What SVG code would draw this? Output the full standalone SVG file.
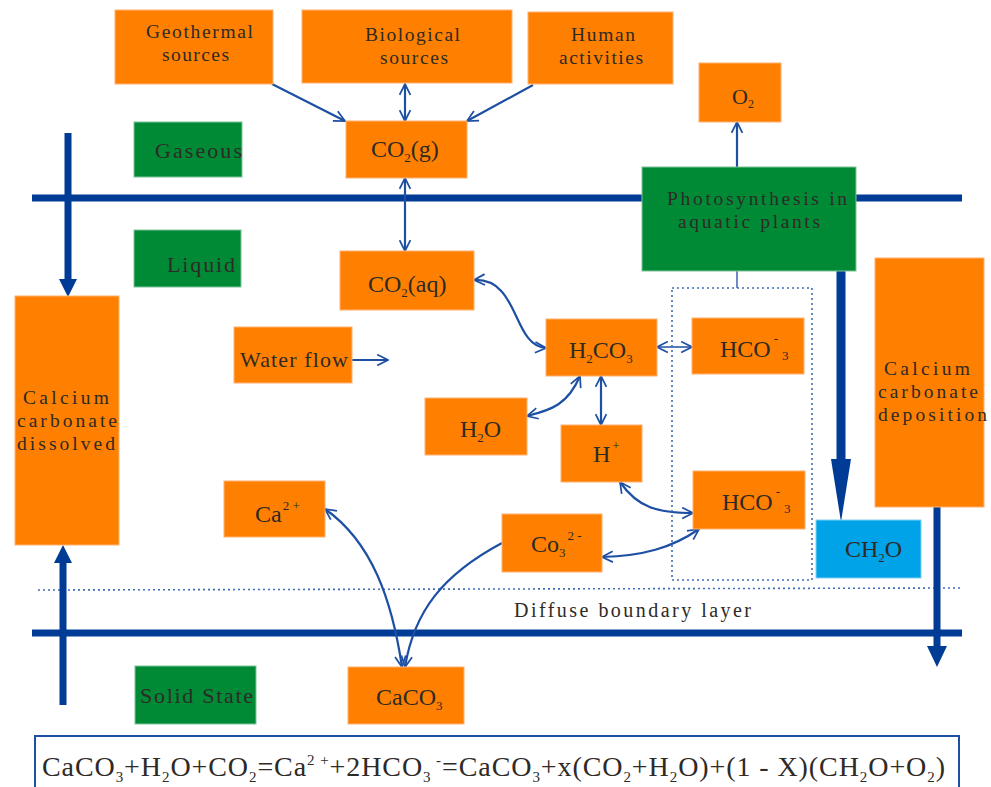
<svg xmlns="http://www.w3.org/2000/svg" width="991" height="787" viewBox="0 0 991 787" font-family="'Liberation Serif','DejaVu Serif',serif">
<style>
.o{fill:#FF8000;stroke:#FFB070;stroke-width:1}
.g{fill:#008A36;stroke:#7FC49A;stroke-width:1}
.b{fill:#00A2E8;stroke:#80D0F4;stroke-width:1}
text{font-family:'Liberation Serif','DejaVu Serif',serif;fill:#2E2A26}
.t{font-size:22px;text-anchor:middle}
.t2{font-size:19.5px;text-anchor:middle}
.l{font-size:24px}
.s{font-size:13px}
.eq{font-size:28px}
.es{font-size:15px}
.c{fill:none;stroke:#1D4FA3;stroke-width:2.2}
.thin{fill:none;stroke:#2D5CA8;stroke-width:1.4}
.dot{fill:none;stroke:#3E6CB5;stroke-width:1.6;stroke-dasharray:2 3}
.thick{stroke:#003C96;stroke-width:7;fill:none}
.head{fill:#003C96}
</style>
<defs>
<marker id="ah" viewBox="0 0 12 12" refX="11" refY="6" markerWidth="13" markerHeight="13" markerUnits="userSpaceOnUse" orient="auto-start-reverse">
<path d="M1,1 L11,6 L1,11" fill="none" stroke="#1D4FA3" stroke-width="1.6"/>
</marker>
</defs>

<g id="layers">
<line class="thick" x1="32" y1="198" x2="962" y2="198"/>
<line class="thick" x1="32" y1="633" x2="962" y2="633"/>
<line class="dot" x1="38" y1="590" x2="962" y2="588"/>
<text x="632.5" y="617" class="t" style="font-size:20px" textLength="237" lengthAdjust="spacing">Diffuse boundary layer</text>
</g>

<g id="connectors">
<line class="c" x1="272" y1="84" x2="345" y2="121" marker-end="url(#ah)"/>
<line class="c" x1="405" y1="84" x2="405" y2="121" marker-start="url(#ah)" marker-end="url(#ah)"/>
<line class="c" x1="533" y1="85" x2="467" y2="121" marker-end="url(#ah)"/>
<line class="c" x1="405" y1="178" x2="405" y2="251" marker-start="url(#ah)" marker-end="url(#ah)"/>
<line class="c" x1="737" y1="167" x2="737" y2="122" marker-end="url(#ah)"/>
<line class="thin" x1="737" y1="271" x2="737" y2="288"/>
<path class="c" d="M474,280 C520,278 512,346 546,348" marker-start="url(#ah)" marker-end="url(#ah)"/>
<line class="c" x1="657" y1="347" x2="692" y2="347" style="stroke-width:1.6" marker-start="url(#ah)" marker-end="url(#ah)"/>
<line class="c" x1="601" y1="376" x2="601" y2="425" marker-start="url(#ah)" marker-end="url(#ah)"/>
<path class="c" d="M580,376 C568,404 552,410 527,416" marker-start="url(#ah)" marker-end="url(#ah)"/>
<path class="c" d="M620,482 C638,508 658,513 693,513" marker-start="url(#ah)" marker-end="url(#ah)"/>
<path class="c" d="M699,529 C672,548 642,556 602,557" marker-start="url(#ah)" marker-end="url(#ah)"/>
<path class="c" d="M325,509 C372,542 392,600 402,667" marker-start="url(#ah)" marker-end="url(#ah)"/>
<path class="c" d="M502,543 C442,575 414,612 405,667" marker-end="url(#ah)"/>
<line class="c" x1="352" y1="360" x2="388" y2="360" marker-end="url(#ah)"/>
<line class="thick" style="stroke-width:9" x1="841" y1="271" x2="841" y2="462"/>
<polygon class="head" points="831,459 851,459 841,522"/>
<line class="thick" x1="937" y1="507" x2="937" y2="648"/>
<polygon class="head" points="927,646 947,646 937,667"/>
<line class="thick" x1="68" y1="133" x2="68" y2="281"/>
<polygon class="head" points="59,279 77,279 68,297"/>
<line class="thick" x1="63" y1="705" x2="63" y2="560"/>
<polygon class="head" points="54,563 72,563 63,545"/>
<rect class="dot" x="672" y="288" width="140" height="292"/>
</g>

<g id="geothermal"><rect class="o" x="115" y="10" width="158" height="74"/><text class="t2" x="199.5" y="38" textLength="107" lengthAdjust="spacing">Geothermal</text><text class="t2" x="195.5" y="61" textLength="67" lengthAdjust="spacing">sources</text></g>
<g id="biological"><rect class="o" x="302" y="10" width="210" height="73"/><text class="t2" x="412.5" y="41" textLength="95" lengthAdjust="spacing">Biological</text><text class="t2" x="414" y="64" textLength="68" lengthAdjust="spacing">sources</text></g>
<g id="human"><rect class="o" x="528" y="12" width="145" height="72"/><text class="t2" x="603" y="41" textLength="64" lengthAdjust="spacing">Human</text><text class="t2" x="601" y="64" textLength="84" lengthAdjust="spacing">activities</text></g>
<g id="co2g"><rect class="o" x="346" y="121" width="121" height="57"/><text class="l" x="371" y="157">CO<tspan class="s" dy="5">2</tspan><tspan dy="-5">(g)</tspan></text></g>
<g id="gaseous"><rect class="g" x="134" y="122" width="108" height="55"/><text class="t" x="198.5" y="158" textLength="87" lengthAdjust="spacing">Gaseous</text></g>
<g id="o2"><rect class="o" x="699" y="63" width="82" height="59"/><text class="l" x="732" y="104" style="font-size:22px">O<tspan class="s" style="font-size:12px" dy="4">2</tspan></text></g>
<g id="photosynthesis"><rect class="g" x="642" y="167" width="214" height="104"/><text class="t2" x="757" y="205" textLength="180" lengthAdjust="spacing">Photosynthesis in</text><text class="t2" x="749" y="228" textLength="142" lengthAdjust="spacing">aquatic plants</text></g>
<g id="liquid"><rect class="g" x="134" y="230" width="107" height="57"/><text class="t" x="201" y="272" textLength="68" lengthAdjust="spacing">Liquid</text></g>
<g id="co2aq"><rect class="o" x="340" y="251" width="134" height="59"/><text class="l" x="368" y="292">CO<tspan class="s" dy="5">2</tspan><tspan dy="-5">(aq)</tspan></text></g>
<g id="waterflow"><rect class="o" x="234" y="327" width="118" height="56"/><text class="t" x="294" y="367" textLength="108" lengthAdjust="spacing">Water flow</text></g>
<g id="h2co3"><rect class="o" x="546" y="319" width="111" height="57"/><text class="l" x="569" y="358">H<tspan class="s" dy="5">2</tspan><tspan dy="-5">CO</tspan><tspan class="s" dy="5">3</tspan></text></g>
<g id="hco3a"><rect class="o" x="692" y="318" width="112" height="56"/><text class="l" x="720" y="357">HCO<tspan class="s" dx="3" dy="-14">-</tspan><tspan class="s" dx="4" dy="17">3</tspan></text></g>
<g id="h2o"><rect class="o" x="425" y="398" width="102" height="57"/><text class="l" x="460" y="437">H<tspan class="s" dy="5">2</tspan><tspan dy="-5">O</tspan></text></g>
<g id="hplus"><rect class="o" x="561" y="425" width="81" height="57"/><text class="l" x="593" y="462">H<tspan class="s" dx="2" dy="-12">+</tspan></text></g>
<g id="ca2"><rect class="o" x="224" y="481" width="101" height="56"/><text class="l" x="255" y="522">Ca<tspan class="s" dx="1" dy="-12">2 +</tspan></text></g>
<g id="co3"><rect class="o" x="502" y="514" width="100" height="58"/><text class="l" x="531" y="552">Co<tspan class="s" dy="5">3</tspan><tspan class="s" dx="2" dy="-17">2 -</tspan></text></g>
<g id="hco3b"><rect class="o" x="693" y="471" width="112" height="58"/><text class="l" x="722" y="510">HCO<tspan class="s" dx="3" dy="-14">-</tspan><tspan class="s" dx="4" dy="17">3</tspan></text></g>
<g id="ch2o"><rect class="b" x="816" y="520" width="105" height="58"/><text class="l" x="845" y="557">CH<tspan class="s" dy="5">2</tspan><tspan dy="-5">O</tspan></text></g>
<g id="dissolved"><rect class="o" x="15" y="296" width="104" height="249"/><text class="t2" x="66" y="404" textLength="86" lengthAdjust="spacing">Calcium</text><text class="t2" x="67" y="427" textLength="100" lengthAdjust="spacing">carbonate</text><text class="t2" x="66" y="450" textLength="98" lengthAdjust="spacing">dissolved</text></g>
<g id="deposition"><rect class="o" x="875" y="258" width="109" height="249"/><text class="t2" x="927" y="375" textLength="86" lengthAdjust="spacing">Calcium</text><text class="t2" x="928" y="398" textLength="100" lengthAdjust="spacing">carbonate</text><text class="t2" x="932.5" y="421" textLength="109" lengthAdjust="spacing">deposition</text></g>
<g id="caco3"><rect class="o" x="348" y="667" width="116" height="57"/><text class="l" x="376" y="705">CaCO<tspan class="s" dy="5">3</tspan></text></g>
<g id="solid"><rect class="g" x="135" y="666" width="121" height="58"/><text class="t" x="196.5" y="703" textLength="113" lengthAdjust="spacing">Solid State</text></g>

<g id="equation"><rect x="35" y="736" width="924" height="64" fill="#fff" stroke="#1D4FA3" stroke-width="2"/>
<text class="eq" x="42" y="776" textLength="903" lengthAdjust="spacing">CaCO<tspan class="es" dy="6">3</tspan><tspan dy="-6">+H</tspan><tspan class="es" dy="6">2</tspan><tspan dy="-6">O+CO</tspan><tspan class="es" dy="6">2</tspan><tspan dy="-6">=Ca</tspan><tspan class="es" dy="-11">2 +</tspan><tspan dy="11">+2HCO</tspan><tspan class="es" dy="6">3</tspan><tspan class="es" dy="-17"> -</tspan><tspan dy="11">=CaCO</tspan><tspan class="es" dy="6">3</tspan><tspan dy="-6">+x(CO</tspan><tspan class="es" dy="6">2</tspan><tspan dy="-6">+H</tspan><tspan class="es" dy="6">2</tspan><tspan dy="-6">O)+(1 - X)(CH</tspan><tspan class="es" dy="6">2</tspan><tspan dy="-6">O+O</tspan><tspan class="es" dy="6">2</tspan><tspan dy="-6">)</tspan></text></g>
</svg>
